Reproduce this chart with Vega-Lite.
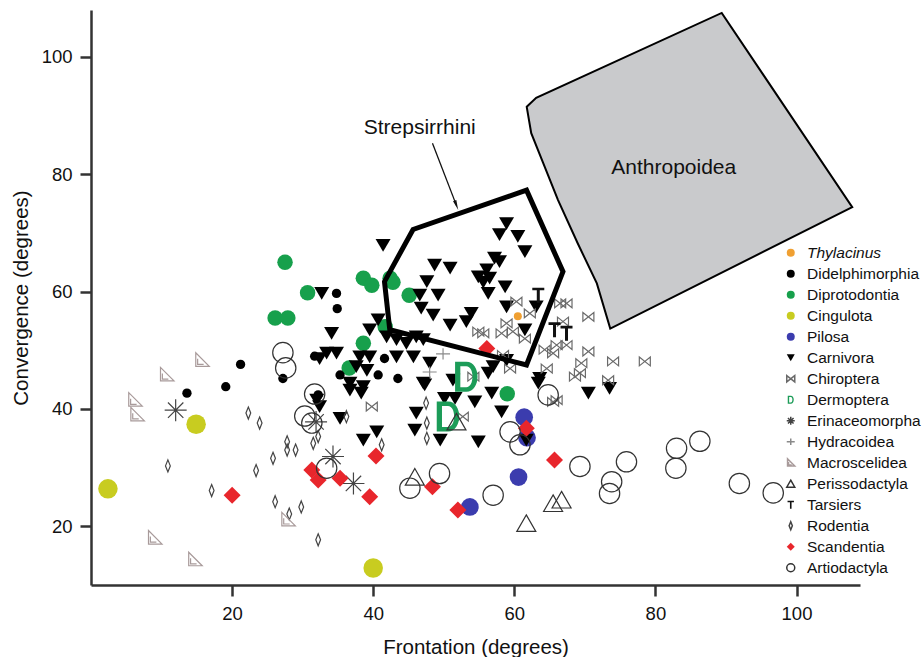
{
  "$schema": "https://vega.github.io/schema/vega-lite/v6.json",
  "autosize": {"type": "none"},
  "padding": {"left": 91, "top": 10, "right": 64, "bottom": 72},
  "width": 769,
  "height": 575,
  "background": "white",
  "config": {
    "view": {"stroke": null},
    "font": "Liberation Sans",
    "axis": {
      "grid": false,
      "domainColor": "#333333",
      "domainWidth": 2.5,
      "tickColor": "#333333",
      "tickWidth": 2.5,
      "tickSize": 11,
      "labelFont": "Liberation Sans",
      "labelFontSize": 18.5,
      "labelColor": "#111111",
      "titleFont": "Liberation Sans",
      "titleFontSize": 20.5,
      "titleFontWeight": "normal",
      "titleColor": "#111111"
    },
    "legend": {
      "orient": "none",
      "legendX": 692,
      "legendY": 235,
      "labelFontSize": 15.5,
      "labelFont": "Liberation Sans",
      "labelColor": "#111111",
      "symbolSize": 64,
      "rowPadding": 4,
      "labelOffset": 8.5,
      "padding": 0
    }
  },
  "datasets": {
    "pts": [
      {"g": "Cingulota", "x": 2.4, "y": 26.4},
      {"g": "Cingulota", "x": 14.9, "y": 37.4},
      {"g": "Cingulota", "x": 40.0, "y": 12.9},
      {"g": "Pilosa", "x": 61.4, "y": 38.6},
      {"g": "Pilosa", "x": 61.8, "y": 35.1},
      {"g": "Pilosa", "x": 60.6, "y": 28.4},
      {"g": "Pilosa", "x": 53.7, "y": 23.3},
      {"g": "Diprotodontia", "x": 27.5, "y": 65.0},
      {"g": "Diprotodontia", "x": 30.7, "y": 59.8},
      {"g": "Diprotodontia", "x": 26.1, "y": 55.5},
      {"g": "Diprotodontia", "x": 27.9, "y": 55.5},
      {"g": "Diprotodontia", "x": 38.6, "y": 62.3},
      {"g": "Diprotodontia", "x": 39.8, "y": 61.1},
      {"g": "Diprotodontia", "x": 42.4, "y": 62.3},
      {"g": "Diprotodontia", "x": 42.8, "y": 61.6},
      {"g": "Diprotodontia", "x": 45.1, "y": 59.4},
      {"g": "Diprotodontia", "x": 38.6, "y": 51.2},
      {"g": "Diprotodontia", "x": 36.6, "y": 47.0},
      {"g": "Diprotodontia", "x": 59.0, "y": 42.6},
      {"g": "Diprotodontia", "x": 41.7, "y": 54.0},
      {"g": "Thylacinus", "x": 60.5, "y": 55.8},
      {"g": "Didelphimorphia", "x": 13.6, "y": 42.7},
      {"g": "Didelphimorphia", "x": 19.1, "y": 43.8},
      {"g": "Didelphimorphia", "x": 21.2, "y": 47.6},
      {"g": "Didelphimorphia", "x": 27.2, "y": 45.2},
      {"g": "Didelphimorphia", "x": 34.8, "y": 59.7},
      {"g": "Didelphimorphia", "x": 34.9, "y": 57.1},
      {"g": "Didelphimorphia", "x": 31.7, "y": 49.0},
      {"g": "Didelphimorphia", "x": 35.3, "y": 45.8},
      {"g": "Didelphimorphia", "x": 40.7, "y": 45.8},
      {"g": "Didelphimorphia", "x": 41.6, "y": 48.6},
      {"g": "Didelphimorphia", "x": 43.5, "y": 45.2},
      {"g": "Didelphimorphia", "x": 32.2, "y": 42.4},
      {"g": "Carnivora", "x": 58.9, "y": 71.6},
      {"g": "Carnivora", "x": 57.9, "y": 69.7},
      {"g": "Carnivora", "x": 60.5, "y": 69.4},
      {"g": "Carnivora", "x": 61.5, "y": 66.8},
      {"g": "Carnivora", "x": 57.2, "y": 65.7},
      {"g": "Carnivora", "x": 57.9, "y": 65.1},
      {"g": "Carnivora", "x": 56.1, "y": 63.7},
      {"g": "Carnivora", "x": 54.9, "y": 62.5},
      {"g": "Carnivora", "x": 56.5, "y": 62.3},
      {"g": "Carnivora", "x": 58.7, "y": 60.8},
      {"g": "Carnivora", "x": 55.6, "y": 61.6},
      {"g": "Carnivora", "x": 56.3, "y": 59.7},
      {"g": "Carnivora", "x": 58.9, "y": 57.4},
      {"g": "Carnivora", "x": 63.1, "y": 57.4},
      {"g": "Carnivora", "x": 53.9, "y": 56.3},
      {"g": "Carnivora", "x": 53.2, "y": 54.9},
      {"g": "Carnivora", "x": 50.9, "y": 54.3},
      {"g": "Carnivora", "x": 61.5, "y": 53.5},
      {"g": "Carnivora", "x": 48.7, "y": 64.5},
      {"g": "Carnivora", "x": 50.9, "y": 64.0},
      {"g": "Carnivora", "x": 47.6, "y": 61.7},
      {"g": "Carnivora", "x": 49.2, "y": 59.4},
      {"g": "Carnivora", "x": 46.6, "y": 59.4},
      {"g": "Carnivora", "x": 46.8, "y": 57.2},
      {"g": "Carnivora", "x": 48.5, "y": 56.0},
      {"g": "Carnivora", "x": 41.4, "y": 67.9},
      {"g": "Carnivora", "x": 32.7, "y": 59.7},
      {"g": "Carnivora", "x": 34.1, "y": 52.9},
      {"g": "Carnivora", "x": 40.7, "y": 55.2},
      {"g": "Carnivora", "x": 39.5, "y": 53.5},
      {"g": "Carnivora", "x": 41.9, "y": 52.3},
      {"g": "Carnivora", "x": 43.3, "y": 51.8},
      {"g": "Carnivora", "x": 44.7, "y": 51.2},
      {"g": "Carnivora", "x": 46.1, "y": 52.3},
      {"g": "Carnivora", "x": 47.1, "y": 51.8},
      {"g": "Carnivora", "x": 33.4, "y": 49.5},
      {"g": "Carnivora", "x": 34.8, "y": 49.5},
      {"g": "Carnivora", "x": 32.4, "y": 48.6},
      {"g": "Carnivora", "x": 38.1, "y": 48.9},
      {"g": "Carnivora", "x": 39.5, "y": 48.9},
      {"g": "Carnivora", "x": 43.3, "y": 48.9},
      {"g": "Carnivora", "x": 45.7, "y": 48.9},
      {"g": "Carnivora", "x": 48.0, "y": 47.8},
      {"g": "Carnivora", "x": 37.6, "y": 47.2},
      {"g": "Carnivora", "x": 39.1, "y": 46.6},
      {"g": "Carnivora", "x": 36.7, "y": 44.4},
      {"g": "Carnivora", "x": 38.6, "y": 43.8},
      {"g": "Carnivora", "x": 47.1, "y": 44.4},
      {"g": "Carnivora", "x": 50.1, "y": 41.8},
      {"g": "Carnivora", "x": 51.6, "y": 41.8},
      {"g": "Carnivora", "x": 54.4, "y": 41.2},
      {"g": "Carnivora", "x": 56.8, "y": 42.7},
      {"g": "Carnivora", "x": 58.2, "y": 39.5},
      {"g": "Carnivora", "x": 63.4, "y": 44.4},
      {"g": "Carnivora", "x": 70.5, "y": 42.7},
      {"g": "Carnivora", "x": 73.5, "y": 43.5},
      {"g": "Carnivora", "x": 47.3, "y": 44.1},
      {"g": "Carnivora", "x": 36.7, "y": 43.2},
      {"g": "Carnivora", "x": 38.3, "y": 42.7},
      {"g": "Carnivora", "x": 32.4, "y": 40.4},
      {"g": "Carnivora", "x": 35.3, "y": 38.4},
      {"g": "Carnivora", "x": 38.6, "y": 34.7},
      {"g": "Carnivora", "x": 40.5, "y": 36.1},
      {"g": "Carnivora", "x": 46.1, "y": 39.3},
      {"g": "Carnivora", "x": 45.9, "y": 36.4},
      {"g": "Carnivora", "x": 49.5, "y": 34.7},
      {"g": "Carnivora", "x": 54.9, "y": 34.4},
      {"g": "Carnivora", "x": 61.7, "y": 34.7},
      {"g": "Carnivora", "x": 57.0, "y": 47.2},
      {"g": "Carnivora", "x": 58.9, "y": 48.3},
      {"g": "Carnivora", "x": 56.3, "y": 46.1},
      {"g": "Carnivora", "x": 63.6, "y": 45.2},
      {"g": "Carnivora", "x": 51.3, "y": 44.9},
      {"g": "Carnivora", "x": 32.0, "y": 41.5},
      {"g": "Chiroptera", "x": 60.3, "y": 58.3},
      {"g": "Chiroptera", "x": 62.2, "y": 56.3},
      {"g": "Chiroptera", "x": 66.5, "y": 58.0},
      {"g": "Chiroptera", "x": 67.4, "y": 58.0},
      {"g": "Chiroptera", "x": 70.5, "y": 55.7},
      {"g": "Chiroptera", "x": 66.9, "y": 54.9},
      {"g": "Chiroptera", "x": 58.9, "y": 54.6},
      {"g": "Chiroptera", "x": 59.8, "y": 53.2},
      {"g": "Chiroptera", "x": 58.2, "y": 52.9},
      {"g": "Chiroptera", "x": 54.9, "y": 53.2},
      {"g": "Chiroptera", "x": 55.6, "y": 52.9},
      {"g": "Chiroptera", "x": 61.5, "y": 52.0},
      {"g": "Chiroptera", "x": 66.0, "y": 50.9},
      {"g": "Chiroptera", "x": 67.4, "y": 50.9},
      {"g": "Chiroptera", "x": 64.3, "y": 50.1},
      {"g": "Chiroptera", "x": 65.5, "y": 49.5},
      {"g": "Chiroptera", "x": 70.5, "y": 49.8},
      {"g": "Chiroptera", "x": 74.0, "y": 48.1},
      {"g": "Chiroptera", "x": 78.5, "y": 48.1},
      {"g": "Chiroptera", "x": 69.5, "y": 47.8},
      {"g": "Chiroptera", "x": 69.3, "y": 46.1},
      {"g": "Chiroptera", "x": 68.6, "y": 45.5},
      {"g": "Chiroptera", "x": 64.6, "y": 46.9},
      {"g": "Chiroptera", "x": 73.3, "y": 44.9},
      {"g": "Chiroptera", "x": 66.0, "y": 41.5},
      {"g": "Chiroptera", "x": 59.4, "y": 46.9},
      {"g": "Chiroptera", "x": 58.4, "y": 49.2},
      {"g": "Chiroptera", "x": 52.7, "y": 38.7},
      {"g": "Chiroptera", "x": 54.2, "y": 45.5},
      {"g": "Chiroptera", "x": 39.8, "y": 40.4},
      {"g": "Chiroptera", "x": 65.5, "y": 41.2},
      {"g": "Tarsiers", "x": 63.4, "y": 59.4},
      {"g": "Tarsiers", "x": 65.7, "y": 53.5},
      {"g": "Tarsiers", "x": 67.4, "y": 52.9},
      {"g": "Dermoptera", "x": 53.2, "y": 45.5},
      {"g": "Dermoptera", "x": 50.6, "y": 38.7},
      {"g": "Hydracoidea", "x": 49.9, "y": 49.4},
      {"g": "Hydracoidea", "x": 48.0, "y": 46.3},
      {"g": "Rodentia", "x": 22.3, "y": 39.3},
      {"g": "Rodentia", "x": 23.9, "y": 37.6},
      {"g": "Rodentia", "x": 10.9, "y": 30.3},
      {"g": "Rodentia", "x": 17.1, "y": 26.1},
      {"g": "Rodentia", "x": 23.4, "y": 29.5},
      {"g": "Rodentia", "x": 25.8, "y": 31.6},
      {"g": "Rodentia", "x": 27.8, "y": 34.4},
      {"g": "Rodentia", "x": 27.8, "y": 33.0},
      {"g": "Rodentia", "x": 29.0, "y": 33.0},
      {"g": "Rodentia", "x": 26.1, "y": 24.2},
      {"g": "Rodentia", "x": 28.1, "y": 22.1},
      {"g": "Rodentia", "x": 29.8, "y": 23.3},
      {"g": "Rodentia", "x": 31.5, "y": 34.15},
      {"g": "Rodentia", "x": 32.2, "y": 35.3},
      {"g": "Rodentia", "x": 32.2, "y": 17.7},
      {"g": "Rodentia", "x": 41.2, "y": 33.9},
      {"g": "Rodentia", "x": 36.2, "y": 38.7},
      {"g": "Rodentia", "x": 47.5, "y": 41.0},
      {"g": "Rodentia", "x": 47.6, "y": 37.6},
      {"g": "Rodentia", "x": 47.6, "y": 35.0},
      {"g": "Macroscelidea", "x": 6.2, "y": 41.5},
      {"g": "Macroscelidea", "x": 6.5, "y": 39.0},
      {"g": "Macroscelidea", "x": 10.7, "y": 45.8},
      {"g": "Macroscelidea", "x": 15.7, "y": 48.3},
      {"g": "Macroscelidea", "x": 9.0, "y": 18.0},
      {"g": "Macroscelidea", "x": 14.7, "y": 14.3},
      {"g": "Macroscelidea", "x": 27.9, "y": 21.1},
      {"g": "Erinaceomorpha", "x": 12.0, "y": 39.8},
      {"g": "Erinaceomorpha", "x": 34.3, "y": 31.9},
      {"g": "Erinaceomorpha", "x": 37.2, "y": 27.3},
      {"g": "Erinaceomorpha", "x": 31.9, "y": 37.8},
      {"g": "Perissodactyla", "x": 45.9, "y": 28.4},
      {"g": "Perissodactyla", "x": 51.8, "y": 37.8},
      {"g": "Perissodactyla", "x": 65.5, "y": 23.9},
      {"g": "Perissodactyla", "x": 66.7, "y": 24.5},
      {"g": "Perissodactyla", "x": 61.7, "y": 20.5},
      {"g": "Scandentia", "x": 20.0, "y": 25.3},
      {"g": "Scandentia", "x": 40.4, "y": 32.0},
      {"g": "Scandentia", "x": 31.3, "y": 29.6},
      {"g": "Scandentia", "x": 32.2, "y": 27.9},
      {"g": "Scandentia", "x": 35.3, "y": 28.2},
      {"g": "Scandentia", "x": 39.5, "y": 25.05},
      {"g": "Scandentia", "x": 48.4, "y": 26.75},
      {"g": "Scandentia", "x": 52.0, "y": 22.8},
      {"g": "Scandentia", "x": 61.7, "y": 36.7},
      {"g": "Scandentia", "x": 65.7, "y": 31.3},
      {"g": "Scandentia", "x": 56.1, "y": 50.3},
      {"g": "Artiodactyla", "x": 27.2, "y": 49.6},
      {"g": "Artiodactyla", "x": 27.6, "y": 47.0},
      {"g": "Artiodactyla", "x": 31.7, "y": 42.55},
      {"g": "Artiodactyla", "x": 30.3, "y": 38.8},
      {"g": "Artiodactyla", "x": 31.3, "y": 37.6},
      {"g": "Artiodactyla", "x": 33.4, "y": 29.9},
      {"g": "Artiodactyla", "x": 45.2, "y": 26.5},
      {"g": "Artiodactyla", "x": 49.4, "y": 29.0},
      {"g": "Artiodactyla", "x": 57.0, "y": 25.3},
      {"g": "Artiodactyla", "x": 59.4, "y": 36.1},
      {"g": "Artiodactyla", "x": 60.8, "y": 33.9},
      {"g": "Artiodactyla", "x": 64.8, "y": 42.4},
      {"g": "Artiodactyla", "x": 69.3, "y": 30.2},
      {"g": "Artiodactyla", "x": 75.9, "y": 31.0},
      {"g": "Artiodactyla", "x": 73.8, "y": 27.6},
      {"g": "Artiodactyla", "x": 73.5, "y": 25.6},
      {"g": "Artiodactyla", "x": 83.0, "y": 33.3},
      {"g": "Artiodactyla", "x": 82.9, "y": 29.9},
      {"g": "Artiodactyla", "x": 86.3, "y": 34.5},
      {"g": "Artiodactyla", "x": 91.9, "y": 27.3},
      {"g": "Artiodactyla", "x": 96.7, "y": 25.7}
    ],
    "anthro": [
      {"i": 0, "x": 61.76, "y": 91.5},
      {"i": 1, "x": 63.1, "y": 93.05},
      {"i": 2, "x": 89.4, "y": 107.5},
      {"i": 3, "x": 107.9, "y": 74.4},
      {"i": 4, "x": 73.6, "y": 53.7},
      {"i": 5, "x": 71.7, "y": 61.4},
      {"i": 6, "x": 69.0, "y": 68.2},
      {"i": 7, "x": 66.2, "y": 75.6},
      {"i": 8, "x": 64.1, "y": 81.9},
      {"i": 9, "x": 62.4, "y": 87.0}
    ],
    "strep": [
      {"i": 0, "x": 61.73, "y": 77.3},
      {"i": 1, "x": 66.9, "y": 63.4},
      {"i": 2, "x": 61.73, "y": 47.5},
      {"i": 3, "x": 42.35, "y": 53.5},
      {"i": 4, "x": 41.6, "y": 61.7},
      {"i": 5, "x": 45.65, "y": 70.6}
    ],
    "arrow": [
      {"x": 48.4, "y": 85.3, "x2": 51.8, "y2": 74.7}
    ],
    "labels": [
      {"text": "Strepsirrhini", "x": 46.6, "y": 87.9},
      {"text": "Anthropoidea", "x": 82.6, "y": 81.1}
    ]
  },
  "layer": [
    {
      "data": {"name": "anthro"},
      "mark": {"type": "line", "interpolate": "linear-closed", "fill": "#c9cacc", "stroke": "#000000", "strokeWidth": 2, "strokeJoin": "miter"},
      "encoding": {
        "x": {"field": "x", "type": "quantitative", "scale": {"domain": [0, 109], "nice": false, "zero": false}, "axis": {"values": [20, 40, 60, 80, 100], "title": "Frontation (degrees)", "titlePadding": 15, "labelPadding": 8}},
        "y": {"field": "y", "type": "quantitative", "scale": {"domain": [10, 108], "nice": false, "zero": false}, "axis": {"values": [20, 40, 60, 80, 100], "title": "Convergence (degrees)", "titlePadding": 10, "labelPadding": 8}},
        "order": {"field": "i", "type": "quantitative"}
      }
    },
    {
      "data": {"name": "pts"},
      "mark": {"type": "point", "strokeWidth": 1.2, "opacity": 1},
      "encoding": {
        "x": {"field": "x", "type": "quantitative"},
        "y": {"field": "y", "type": "quantitative"},
        "shape": {
          "field": "g", "type": "nominal", "title": null,
          "scale": {
            "domain": ["Thylacinus","Didelphimorphia","Diprotodontia","Cingulota","Pilosa","Carnivora","Chiroptera","Dermoptera","Erinaceomorpha","Hydracoidea","Macroscelidea","Perissodactyla","Tarsiers","Rodentia","Scandentia","Artiodactyla"],
            "range": [
              "circle","circle","circle","circle","circle",
              "M -1 -0.85 L 1 -0.85 L 0 0.85 Z",
              "M -1 -0.8 L 1 0.8 L 1 -0.8 L -1 0.8 Z",
              "M -0.75 -1 L 0 -1 C 1 -1 1 1 0 1 L -0.75 1 Z M -0.4 -0.7 L -0.4 0.7 L 0 0.7 C 0.55 0.7 0.55 -0.7 0 -0.7 Z",
              "M -1 0 L 1 0 M 0 -1 L 0 1 M -0.7 -0.7 L 0.7 0.7 M -0.7 0.7 L 0.7 -0.7",
              "M -1 0 L 1 0 M 0 -0.8 L 0 0.8",
              "M -0.8 -1 L -0.8 0.8 L 1 0.8 Z M -0.55 -0.2 L -0.55 0.55 L 0.25 0.55",
              "M 0 -0.9 L 1 0.85 L -1 0.85 Z",
              "M -0.8 -1 L 0.8 -1 L 0.8 -0.65 L 0.2 -0.65 L 0.2 1 L -0.2 1 L -0.2 -0.65 L -0.8 -0.65 Z",
              "M 0 -1 L 0.4 0 L 0 1 L -0.4 0 Z",
              "M 0 -1 L 1 0 L 0 1 L -1 0 Z",
              "circle"
            ]
          },
          "legend": {"labelFontStyle": {"expr": "datum.label == 'Thylacinus' ? 'italic' : 'normal'"}}
        },
        "fill": {
          "field": "g", "type": "nominal", "title": null,
          "scale": {
            "domain": ["Thylacinus","Didelphimorphia","Diprotodontia","Cingulota","Pilosa","Carnivora","Chiroptera","Dermoptera","Erinaceomorpha","Hydracoidea","Macroscelidea","Perissodactyla","Tarsiers","Rodentia","Scandentia","Artiodactyla"],
            "range": ["#f0a032","#000000","#17a04c","#c8cc20","#3b3cae","#000000","transparent","#1c9c58","transparent","transparent","transparent","transparent","#111111","transparent","#e8262c","transparent"]
          }
        },
        "stroke": {
          "field": "g", "type": "nominal", "title": null,
          "scale": {
            "domain": ["Thylacinus","Didelphimorphia","Diprotodontia","Cingulota","Pilosa","Carnivora","Chiroptera","Dermoptera","Erinaceomorpha","Hydracoidea","Macroscelidea","Perissodactyla","Tarsiers","Rodentia","Scandentia","Artiodactyla"],
            "range": ["transparent","transparent","transparent","transparent","transparent","transparent","#6a6a6a","transparent","#444444","#8a8a8a","#a89a9a","#333333","transparent","#444444","transparent","#333333"]
          }
        },
        "size": {
          "field": "g", "type": "nominal",
          "scale": {
            "type": "ordinal",
            "domain": ["Artiodactyla","Scandentia","Rodentia","Tarsiers","Perissodactyla","Macroscelidea","Hydracoidea","Erinaceomorpha","Dermoptera","Chiroptera","Carnivora","Pilosa","Cingulota","Diprotodontia","Didelphimorphia","Thylacinus"],
            "range": [415, 289, 144, 225, 361, 225, 196, 484, 900, 121, 225, 314, 380, 240, 87, 64]
          },
          "legend": null
        }
      }
    },
    {
      "data": {"name": "strep"},
      "mark": {"type": "line", "interpolate": "linear-closed", "stroke": "#000000", "strokeWidth": 5, "strokeJoin": "miter"},
      "encoding": {
        "x": {"field": "x", "type": "quantitative"},
        "y": {"field": "y", "type": "quantitative"},
        "order": {"field": "i", "type": "quantitative"}
      }
    },
    {
      "data": {"name": "arrow"},
      "mark": {"type": "rule", "stroke": "#111111", "strokeWidth": 1.3},
      "encoding": {
        "x": {"field": "x", "type": "quantitative"},
        "y": {"field": "y", "type": "quantitative"},
        "x2": {"field": "x2"},
        "y2": {"field": "y2"}
      }
    },
    {
      "data": {"name": "arrow"},
      "mark": {"type": "point", "shape": "M -0.35 -1 L 0 1 L 0.35 -1 Z", "size": 100, "angle": -21, "filled": true, "fill": "#111111", "strokeWidth": 0, "opacity": 1},
      "encoding": {
        "x": {"field": "x2", "type": "quantitative"},
        "y": {"field": "y2", "type": "quantitative"}
      }
    },
    {
      "data": {"name": "labels"},
      "mark": {"type": "text", "font": "Liberation Sans", "fontSize": 21, "color": "#111111", "align": "center", "baseline": "middle"},
      "encoding": {
        "x": {"field": "x", "type": "quantitative"},
        "y": {"field": "y", "type": "quantitative"},
        "text": {"field": "text"}
      }
    }
  ]
}
